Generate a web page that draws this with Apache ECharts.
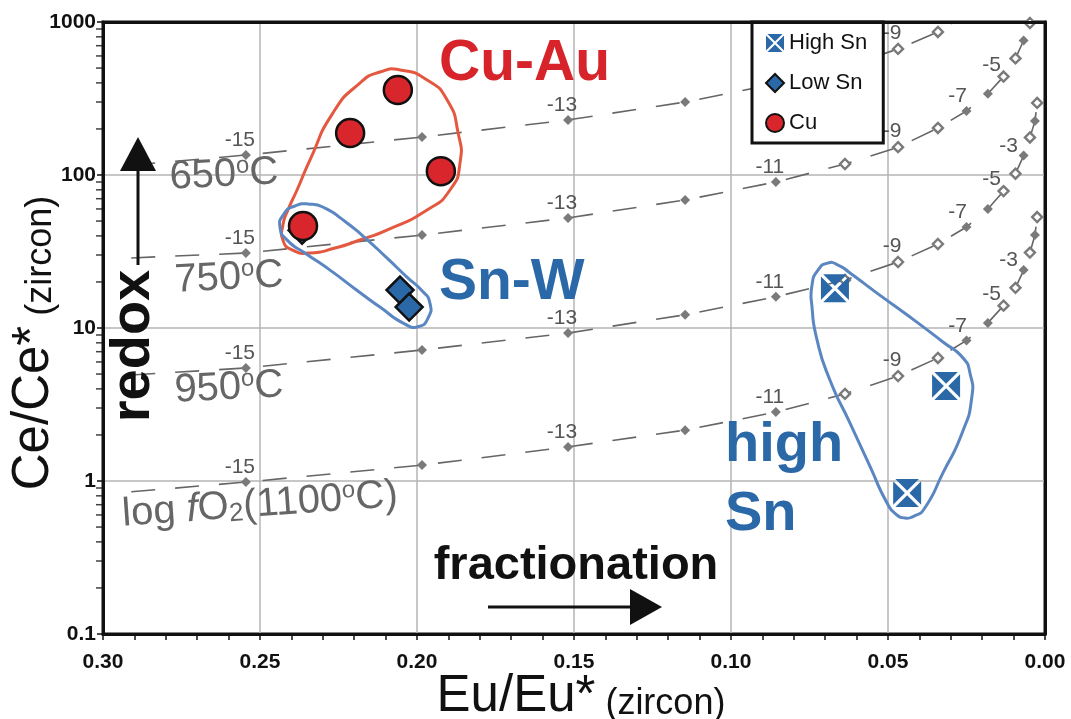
<!DOCTYPE html>
<html><head><meta charset="utf-8">
<script src="https://cdn.jsdelivr.net/npm/echarts@6/dist/echarts.min.js"></script>
<style>html,body{margin:0;padding:0;background:#fff}#c{width:1071px;height:719px}</style>
</head><body><div id="c"></div>
<script>
// ---------- data ----------
const xTickLabels = ['0.30', '0.25', '0.20', '0.15', '0.10', '0.05', '0.00'];
const yTickLabels = ['0.1', '1', '10', '100', '1000'];
const yMinorTicks = [0.2,0.3,0.4,0.5,0.6,0.7,0.8,0.9, 2,3,4,5,6,7,8,9, 20,30,40,50,60,70,80,90, 200,300,400,500,600,700,800,900];

// log fO2 reference lines: level (null = start of line, no marker), Eu/Eu* positions
const fo2Levels = [null, -15, -14, -13, -12, -11, -10, -9, -8, -7, -6, -5, -4, -3, -2, -1, 0];
const fo2Eu     = [0.291, 0.2545, 0.1984, 0.1519, 0.1146, 0.0857, 0.0637, 0.0468, 0.0341, 0.0250, 0.0182, 0.0132, 0.0094, 0.0068, 0.0048, 0.0032, 0.0025];
const ce650  = [116, 135, 177, 229, 300, 394, 508, 667, 861, 1128];
const ce750  = [28.7, 30.9, 40.5, 52.4, 68.7, 90, 118, 152, 203, 262, 340, 440, 578, 757, 985];
const ce950  = [4.93, 5.48, 7.18, 9.27, 12.2, 16.0, 20.6, 27.0, 35.4, 45.7, 60, 78.5, 102, 134, 176, 225, 296];
const ce1100 = [0.85, 0.984, 1.27, 1.67, 2.15, 2.82, 3.71, 4.85, 6.37, 8.3, 10.8, 14.0, 18.3, 23.9, 31.1, 40.5, 53.1];
const hollowLevels = [-10, -9, -8, -5, -4, -2, 0];
const labels650  = [-15, -13, -11, -9];
const labels750  = [-15, -13, -11, -9, -7, -5];
const labels950  = [-15, -13, -11, -9, -7, -5, -3];
const labels1100 = [-15, -13, -11, -9, -7, -5, -3];

// samples  [Eu/Eu*, Ce/Ce*]
const highSn = [[0.0669, 18.2], [0.0315, 4.18], [0.0439, 0.835]];
const lowSn  = [[0.2366, 43.5], [0.2054, 17.7], [0.2025, 13.7]];
const cu     = [[0.2363, 46.4], [0.2213, 188], [0.2061, 359], [0.1924, 106]];

// field envelopes
const envCuAu = [[0.2054,486],[0.1968,418],[0.1904,309],[0.1869,188],[0.1863,120],[0.1895,79.8],[0.1968,59],[0.2096,43.7],[0.2182,37.6],[0.2261,33.3],[0.2341,30.9],[0.2398,32.4],[0.2427,37.6],[0.2427,47.1],[0.2411,59],[0.2382,79.8],[0.2341,125],[0.2268,254],[0.2182,399],[0.2118,471]];
const envSnW = [[0.2436,45.1],[0.2424,55.6],[0.2389,62.7],[0.2341,64.5],[0.2293,60.8],[0.2239,51.5],[0.2172,39.9],[0.2096,28.7],[0.2032,21.5],[0.1984,17.5],[0.1959,14.6],[0.1965,11.6],[0.1997,10.2],[0.2038,10.6],[0.2118,13.7],[0.2197,18.0],[0.2277,23.9],[0.2357,30.9],[0.2411,37.1]];
const envHighSn = [[0.0691,26.6],[0.0723,23.9],[0.0742,19.1],[0.0742,13.7],[0.0726,8.35],[0.0685,4.57],[0.0621,2.39],[0.0557,1.24],[0.0503,0.718],[0.0475,0.608],[0.0446,0.573],[0.0417,0.590],[0.0385,0.656],[0.0325,1.13],[0.0264,2.06],[0.0233,3.54],[0.0239,5.08],[0.0261,6.37],[0.0325,8.1],[0.0430,11.8],[0.0535,16.9],[0.0621,22.9],[0.0659,25.8]];

// ---------- styling ----------
const FONT = "'Liberation Sans', Arial, Helvetica, sans-serif";
const BLUE = '#2b68a8', RED = '#d8262c', GREY = '#666';
const crossSquare = 'path://M8,0L92,0L50,42ZM8,100L92,100L50,58ZM0,8L0,92L42,50ZM100,8L100,92L58,50Z';

function labelOffset(lv) {
  if (lv <= -9) return [-6, 2];
  if (lv === -7) return [-9, 2];
  if (lv === -5) return [-12, 6];
  return [-15, 7];
}
function contourData(ce, labelLv) {
  return ce.map((v, i) => {
    const lv = fo2Levels[i];
    const item = { value: [fo2Eu[i], v] };
    if (lv === null) item.symbol = 'none';
    else if (hollowLevels.includes(lv)) item.itemStyle = { color: '#fff', borderColor: '#7a7a7a', borderWidth: 2.4 };
    if (lv !== null && labelLv.includes(lv)) item.label = { show: true, formatter: String(lv), offset: labelOffset(lv) };
    return item;
  });
}
function contourSeries(ce, labelLv) {
  return {
    type: 'line', data: contourData(ce, labelLv), silent: true, z: 2, clip: true,
    symbol: 'diamond', symbolSize: 10,
    itemStyle: { color: '#7a7a7a' },
    lineStyle: { color: GREY, width: 1.6, type: [24, 20] },
    label: { show: false, position: 'top', distance: 1, fontSize: 21, color: '#555', fontFamily: FONT }
  };
}
function envelopeSeries(pts, color) {
  return {
    type: 'custom', data: pts, silent: true, z: 3, clip: false,
    renderItem: (params, api) => {
      if (params.dataIndex !== 0) return null;
      return { type: 'polygon', shape: { points: pts.map(p => api.coord(p)), smooth: 0.6 },
               style: { fill: 'none', stroke: color, lineWidth: 3 } };
    }
  };
}

const chart = echarts.init(document.getElementById('c'), null, { renderer: 'canvas' });
const tempRich = {
  t: { fontSize: 40, fontFamily: FONT, fill: GREY },
  i: { fontSize: 40, fontFamily: FONT, fill: GREY, fontStyle: 'italic' },
  s: { fontSize: 24, fontFamily: FONT, fill: GREY, verticalAlign: 'top' },
  b: { fontSize: 26, fontFamily: FONT, fill: GREY, verticalAlign: 'bottom' }
};
const titleRich = {
  a: { fontSize: 51, fontFamily: FONT, fill: '#111', verticalAlign: 'bottom' },
  b: { fontSize: 36, fontFamily: FONT, fill: '#111', verticalAlign: 'bottom' }
};
function txt(x, y, text, opts) {
  return Object.assign({ type: 'text', x: x, y: y, silent: true, z: 20,
    style: Object.assign({ text: text, align: 'center', verticalAlign: 'middle', font: 'bold 56px ' + FONT, fill: '#111' }, opts.style || {}) },
    opts.el || {});
}
const frameAxis = { show: true, onZero: false, lineStyle: { color: '#111', width: 3 } };

const option = {
  animation: false,
  backgroundColor: '#fff',
  grid: { left: 103, right: 26, top: 22, bottom: 85, show: true, borderColor: '#111', borderWidth: 3, backgroundColor: '#fff' },
  xAxis: [{
    type: 'value', inverse: true, min: 0, max: 0.3, interval: 0.05,
    axisLine: frameAxis,
    axisTick: { show: true, length: 6, lineStyle: { color: '#111', width: 1.5 } },
    minorTick: { show: true, splitNumber: 5, length: 6, lineStyle: { color: '#111', width: 1.5 } },
    splitLine: { show: true, lineStyle: { color: '#b5b5b5', width: 1.5 } },
    axisLabel: { fontSize: 21, fontWeight: 'bold', color: '#111', fontFamily: FONT, margin: 18,
      formatter: v => xTickLabels[Math.round((0.3 - v) / 0.05)] }
  }, {
    type: 'value', inverse: true, min: 0, max: 0.3, interval: 0.05, position: 'top', z: 5,
    axisLine: frameAxis, axisTick: { show: false }, axisLabel: { show: false }, splitLine: { show: false }
  }],
  yAxis: [{
    type: 'log', logBase: 10, min: 0.1, max: 1000,
    axisLine: frameAxis,
    axisTick: { show: true, length: 6, lineStyle: { color: '#111', width: 1.5 } },
    splitLine: { show: true, lineStyle: { color: '#b5b5b5', width: 1.5 } },
    axisLabel: { fontSize: 21, fontWeight: 'bold', color: '#111', fontFamily: FONT, margin: 7,
      formatter: v => yTickLabels[Math.round(Math.log10(v)) + 1] }
  }, {
    type: 'log', logBase: 10, min: 0.1, max: 1000, position: 'right', z: 5,
    axisLine: frameAxis, axisTick: { show: false }, axisLabel: { show: false }, splitLine: { show: false }
  }],
  legend: {
    data: ['High Sn', 'Low Sn', 'Cu'], orient: 'vertical', left: 752, top: 22,
    itemWidth: 18, itemHeight: 18, itemGap: 18, padding: [10, 16, 9, 13],
    backgroundColor: '#fff', borderColor: '#111', borderWidth: 3, selectedMode: false,
    textStyle: { fontSize: 22, color: '#111', fontFamily: FONT, lineHeight: 22 }
  },
  series: [
    contourSeries(ce650, labels650),
    contourSeries(ce750, labels750),
    contourSeries(ce950, labels950),
    contourSeries(ce1100, labels1100),
    envelopeSeries(envCuAu, '#e4583f'),
    envelopeSeries(envSnW, '#5a86c2'),
    envelopeSeries(envHighSn, '#5a86c2'),
    { type: 'scatter', data: yMinorTicks.map(v => [0.3, v]), symbol: 'rect', symbolSize: [7, 1.5], symbolOffset: [-3.5, 0],
      itemStyle: { color: '#111' }, silent: true, clip: false, z: 6 },
    { name: 'High Sn', type: 'scatter', data: highSn, symbol: crossSquare, symbolSize: 28, z: 5,
      itemStyle: { color: BLUE, opacity: 1 } },
    { name: 'Low Sn', type: 'scatter', data: lowSn, symbol: 'diamond', symbolSize: 27, z: 5,
      itemStyle: { color: BLUE, borderColor: '#111', borderWidth: 2.5, opacity: 1 } },
    { name: 'Cu', type: 'scatter', data: cu, symbol: 'circle', symbolSize: 28, z: 6,
      itemStyle: { color: RED, borderColor: '#111', borderWidth: 2.5, opacity: 1 } }
  ],
  graphic: [
    txt(439, 64, 'Cu-Au', { style: { align: 'left', fill: '#d7232a', font: 'bold 57px ' + FONT } }),
    txt(439, 283, 'Sn-W', { style: { align: 'left', fill: BLUE, font: 'bold 57px ' + FONT } }),
    txt(725, 446, 'high', { style: { align: 'left', fill: BLUE, font: 'bold 56px ' + FONT } }),
    txt(725, 515, 'Sn', { style: { align: 'left', fill: BLUE, font: 'bold 56px ' + FONT } }),
    txt(576, 566, 'fractionation', { style: { font: 'bold 47px ' + FONT } }),
    txt(134, 346, 'redox', { style: { font: 'bold 56px ' + FONT }, el: { rotation: Math.PI / 2 } }),
    // temperature labels
    { type: 'text', x: 224, y: 175, rotation: 0.05, silent: true, z: 20,
      style: { text: '{t|650}{s|o}{t|C}', align: 'center', verticalAlign: 'middle', rich: tempRich } },
    { type: 'text', x: 229, y: 278, rotation: 0.05, silent: true, z: 20,
      style: { text: '{t|750}{s|o}{t|C}', align: 'center', verticalAlign: 'middle', rich: tempRich } },
    { type: 'text', x: 229, y: 388, rotation: 0.05, silent: true, z: 20,
      style: { text: '{t|950}{s|o}{t|C}', align: 'center', verticalAlign: 'middle', rich: tempRich } },
    { type: 'text', x: 260, y: 505, rotation: 0.07, silent: true, z: 20,
      style: { text: '{t|log }{i|f}{t|O}{b|2}{t|(1100}{s|o}{t|C)}', align: 'center', verticalAlign: 'middle', rich: tempRich } },
    // axis titles
    { type: 'text', x: 34, y: 343, rotation: Math.PI / 2, silent: true, z: 20,
      style: { text: '{a|Ce/Ce*}{b| (zircon)}', align: 'center', verticalAlign: 'middle', rich: titleRich } },
    { type: 'text', x: 581, y: 697, silent: true, z: 20,
      style: { text: '{a|Eu/Eu*}{b| (zircon)}', align: 'center', verticalAlign: 'middle', rich: titleRich } },
    // redox arrow
    { type: 'line', silent: true, z: 20, shape: { x1: 138, y1: 265, x2: 138, y2: 166 }, style: { stroke: '#111', lineWidth: 3 } },
    { type: 'polygon', silent: true, z: 20, shape: { points: [[138, 137], [120, 171], [156, 171]] }, style: { fill: '#111' } },
    // fractionation arrow
    { type: 'line', silent: true, z: 20, shape: { x1: 488, y1: 607, x2: 636, y2: 607 }, style: { stroke: '#111', lineWidth: 3 } },
    { type: 'polygon', silent: true, z: 20, shape: { points: [[662, 607], [630, 589], [630, 625]] }, style: { fill: '#111' } }
  ]
};
chart.setOption(option);
</script></body></html>
